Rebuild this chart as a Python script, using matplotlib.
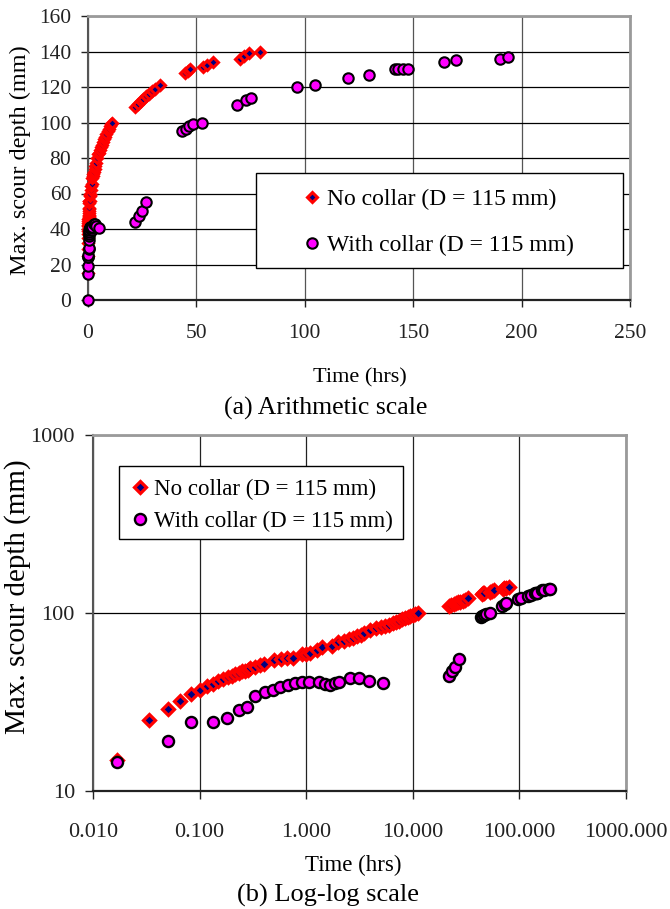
import matplotlib
matplotlib.use('Agg')
import matplotlib.pyplot as plt
from matplotlib.patches import Rectangle
from matplotlib.lines import Line2D
from matplotlib.ticker import NullLocator

plt.rcParams['font.family'] = ['Liberation Serif', 'DejaVu Serif']

# ---------------- data ----------------
nc_t = [0.0167, 0.0336, 0.05, 0.066, 0.083, 0.1, 0.117, 0.133, 0.15, 0.167, 0.183, 0.2,
        0.217, 0.233, 0.25, 0.267, 0.283, 0.3, 0.333, 0.367, 0.4, 0.5, 0.583, 0.667, 0.75,
        0.917, 1.0, 1.083, 1.25, 1.417, 1.75, 2.0, 2.25, 2.5, 2.75, 3.0, 3.25, 3.5, 4.0,
        4.5, 5.0, 5.5, 6.0, 6.5, 7.0, 7.5, 8.0, 8.5, 9.0, 9.5, 10.0, 10.5, 11.3,
        21.7, 23.0, 24.3, 25.5, 26.8, 28.0, 29.5, 31.0, 33.2,
        44.7, 46.0, 47.0, 53.0, 55.0, 57.8, 70.0, 72.0, 74.3, 79.3]
nc_d = [15, 25, 29, 32, 35, 37, 39, 40, 41.5, 42.5, 43.5, 44.5,
        45.5, 46, 47, 47.5, 48, 49, 50, 51, 52, 54.5, 55.5, 56, 56,
        58.5, 59, 59.5, 62, 64, 65.5, 68.5, 70, 71, 72, 74, 75.5, 77, 80,
        82, 83, 84.5, 86, 87.5, 89, 90.5, 92, 93.5, 95, 96.5, 98, 99, 100,
        109, 110.5, 112, 113.5, 115, 116, 117.5, 119, 121,
        128, 129, 130, 131, 132.5, 134, 136, 137.5, 139, 140]

wc_t = [0.0, 0.0167, 0.05, 0.083, 0.133, 0.18, 0.232, 0.281, 0.332, 0.41, 0.49, 0.57,
        0.67, 0.79, 0.91, 1.07, 1.31, 1.51, 1.68, 1.87, 2.05, 2.55, 3.1, 3.9, 5.2,
        21.7, 23.3, 25.1, 26.9, 43.2, 45.0, 46.7, 48.4, 52.8, 68.5, 73.1, 75.4,
        96.6, 104.6, 119.7, 129.6, 141.5, 143.0, 145.3, 147.6, 164.2, 169.9, 189.9, 193.7]
wc_d = [0, 14.5, 19, 24.3, 24.3, 25.6, 28.5, 29.5, 34, 35.8, 37, 38.5,
        39.4, 40.3, 40.8, 41.2, 40.8, 40, 39.2, 40.3, 41.2, 43, 43, 41.7, 40.3,
        44, 47.5, 50, 55, 95, 96.5, 98, 99, 100, 110, 112.5, 114,
        120, 121, 125, 127, 130, 130, 130, 130, 134, 135, 136, 137]

labels = ['No collar (D = 115 mm)', 'With collar (D = 115 mm)']

lin_xticks = [0, 50, 100, 150, 200, 250]
lin_yticks = [0, 20, 40, 60, 80, 100, 120, 140, 160]
log_xticks = [0.01, 0.1, 1, 10, 100, 1000]
log_xticklabels = ['0.010', '0.100', '1.000', '10.000', '100.000', '1000.000']
log_yticks = [10, 100, 1000]
log_yticklabels = ['10', '100', '1000']

W, H = 670, 909
fig = plt.figure(figsize=(W / 100, H / 100), dpi=100)

ax1 = fig.add_axes([88 / W, 1 - 300 / H, 542 / W, 284 / H])
ax2 = fig.add_axes([93 / W, 1 - 791 / H, 533 / W, 356 / H])

RED, NAVY, MAG = '#ff0000', '#000080', '#ff00ff'


def style(ax, vgrid_color):
    ax.set_axisbelow(True)
    ax.yaxis.grid(True, color='#000000', lw=0.9)
    ax.xaxis.grid(True, color=vgrid_color, lw=0.9)
    for s in ['top', 'right']:
        ax.spines[s].set_color('#9a9a9a')
        ax.spines[s].set_linewidth(2.0)
    ax.spines['left'].set_color('#555555')
    ax.spines['left'].set_linewidth(1.5)
    ax.spines['bottom'].set_color('#222222')
    ax.spines['bottom'].set_linewidth(1.6)


# ---------- (a) arithmetic ----------
style(ax1, '#555555')
ax1.plot(nc_t, nc_d, ls='none', marker='D', ms=5.5, mfc=NAVY, mec=RED, mew=2.2,
         clip_on=False, zorder=3)
ax1.plot(wc_t, wc_d, ls='none', marker='o', ms=7.5, mfc=MAG, mec='black', mew=1.5,
         clip_on=False, zorder=3)
ax1.set_xlim(0, 250)
ax1.set_ylim(0, 160)
ax1.set_xticks(lin_xticks)
ax1.set_yticks(lin_yticks)
ax1.tick_params(axis='both', direction='out', length=5, width=1, labelsize=15.5, colors='#222222')
ax1.tick_params(axis='x', pad=12)
ax1.tick_params(axis='y', pad=7)

ax1.add_patch(Rectangle((255.7 / W, 1 - 268 / H), 367 / W, 95 / H, transform=fig.transFigure,
                        facecolor='white', edgecolor='black', lw=1.0, zorder=5, clip_on=False))
h1 = [Line2D([], [], ls='none', marker='D', ms=5.5, mfc=NAVY, mec=RED, mew=2.2),
      Line2D([], [], ls='none', marker='o', ms=7.5, mfc=MAG, mec='black', mew=1.5)]
leg1 = ax1.legend(h1, labels, loc='center left', bbox_to_anchor=(300 / W, 1 - 222.5 / H),
                  bbox_transform=fig.transFigure, frameon=False, fontsize=17,
                  handlelength=1.0, handletextpad=0.14, labelspacing=1.05,
                  borderpad=0, borderaxespad=0, numpoints=1)
leg1.set_zorder(6)

fig.text(20 / W, 1 - 160 / H, 'Max. scour depth (mm)', rotation=90, ha='center', va='center',
         fontsize=17.5)
fig.text(360 / W, 1 - 378 / H, 'Time (hrs)', ha='center', va='center', fontsize=16)
fig.text(326 / W, 1 - 408 / H, '(a) Arithmetic scale', ha='center', va='center', fontsize=18.5)

# ---------- (b) log-log ----------
style(ax2, '#222222')
ax2.set_xscale('log')
ax2.set_yscale('log')
nc_lt = [t for t in nc_t if t > 0]
nc_ld = [d for t, d in zip(nc_t, nc_d) if t > 0]
wc_lt = [t for t in wc_t if t > 0]
wc_ld = [d for t, d in zip(wc_t, wc_d) if t > 0]
ax2.plot(nc_lt, nc_ld, ls='none', marker='D', ms=6, mfc=NAVY, mec=RED, mew=2.3, zorder=3)
ax2.plot(wc_lt, wc_ld, ls='none', marker='o', ms=8, mfc=MAG, mec='black', mew=1.7, zorder=3)
ax2.set_xlim(0.01, 1000)
ax2.set_ylim(10, 1000)
ax2.set_xticks(log_xticks)
ax2.set_xticklabels(log_xticklabels)
ax2.set_yticks(log_yticks)
ax2.set_yticklabels(log_yticklabels)
ax2.xaxis.set_minor_locator(NullLocator())
ax2.yaxis.set_minor_locator(NullLocator())
ax2.tick_params(axis='both', direction='out', length=6, width=1, labelsize=16, colors='#222222')
ax2.tick_params(axis='x', pad=17)
ax2.tick_params(axis='y', pad=7)

ax2.add_patch(Rectangle((119 / W, 1 - 539 / H), 284 / W, 73 / H, transform=fig.transFigure,
                        facecolor='white', edgecolor='black', lw=1.0, zorder=5, clip_on=False))
h2 = [Line2D([], [], ls='none', marker='D', ms=6, mfc=NAVY, mec=RED, mew=2.3),
      Line2D([], [], ls='none', marker='o', ms=8, mfc=MAG, mec='black', mew=1.7)]
leg2 = ax2.legend(h2, labels, loc='center left', bbox_to_anchor=(128.5 / W, 1 - 505.5 / H),
                  bbox_transform=fig.transFigure, frameon=False, fontsize=16.5,
                  handlelength=1.0, handletextpad=0.1, labelspacing=0.5,
                  borderpad=0, borderaxespad=0, numpoints=1)
leg2.set_zorder(6)

fig.text(18 / W, 1 - 597 / H, 'Max. scour depth (mm)', rotation=90, ha='center', va='center',
         fontsize=21)
fig.text(353 / W, 1 - 865 / H, 'Time (hrs)', ha='center', va='center', fontsize=16.5)
fig.text(328 / W, 1 - 895 / H, '(b) Log-log scale', ha='center', va='center', fontsize=19)

fig.savefig('out.png', dpi=100)
